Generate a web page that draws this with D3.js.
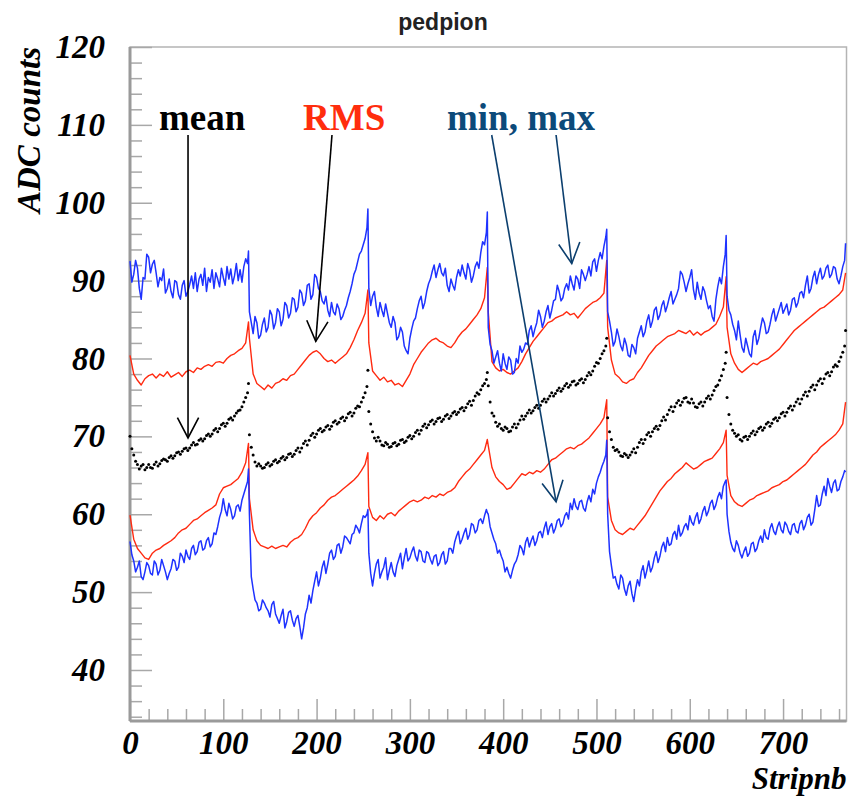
<!DOCTYPE html>
<meta charset="utf-8">
<script src="https://d3js.org/d3.v7.min.js"></script>
<style>
  body { margin: 0; background: #fff; }
</style>
<div id="my_dataviz"></div>
<script>

// 6 chips of 128 strips. Noisy series (min, max, mean) are read every 2 strips,
// the smoother RMS bands every 4 strips; the last strip of each chip is always kept.
var nChips = 6;
var offsets2 = [0,2,4,6,8,10,12,14,16,18,20,22,24,26,28,30,32,34,36,38,40,42,44,46,48,50,52,54,56,58,60,62,
  64,66,68,70,72,74,76,78,80,82,84,86,88,90,92,94,96,98,100,102,104,106,108,110,112,114,116,118,120,122,124,126,127];
var offsets4 = [0,4,8,12,16,20,24,28,32,36,40,44,48,52,56,60,64,68,72,76,80,84,88,92,96,100,104,108,112,116,120,124,127];
var strips2 = [], strips4 = [];
for (var c = 0; c < nChips; c++) {
  offsets2.forEach(function(o) { strips2.push(c * 128 + o); });
  offsets4.forEach(function(o) { strips4.push(c * 128 + o); });
}

// maximum ADC value per strip (blue, upper) -- strips2
var maxVals = [
  92.5,89.8,90.8,92.6,91.6,89.0,87.6,90.4,90.2,93.4,93.0,91.0,92.1,92.6,91.0,89.2,90.4,90.0,91.5,88.4,89.0,90.2,88.6,87.8,90.0,89.8,88.2,87.6,89.4,90.0,88.0,88.6,
  89.5,90.6,89.0,91.0,88.6,90.2,90.8,89.4,91.6,88.6,90.4,89.8,91.4,89.0,91.0,90.2,89.2,91.6,90.4,89.4,91.8,90.2,91.5,89.6,90.6,92.2,90.0,91.4,89.8,91.8,92.8,92.2,93.8,
  86.0,84.6,83.2,85.4,84.6,82.6,83.0,84.4,85.2,83.4,84.0,86.2,85.6,83.8,84.6,86.4,86.0,84.2,85.0,87.2,86.8,85.2,85.8,87.8,87.6,86.0,86.6,88.8,88.4,86.8,87.4,89.4,
  89.6,87.6,88.2,90.8,90.4,89.0,88.6,87.4,87.0,88.0,86.2,85.4,87.2,86.0,85.6,87.0,86.4,85.0,85.4,86.2,86.8,87.8,88.6,89.6,90.8,91.4,92.4,93.4,93.8,94.6,95.4,96.8,99.2,
  89.0,86.8,88.0,88.6,86.6,85.4,87.2,86.2,85.4,87.0,85.8,84.6,84.0,85.4,84.6,82.4,82.8,84.0,83.4,81.6,81.0,80.6,82.6,83.8,84.8,85.2,86.4,87.4,88.0,86.4,87.2,88.6,
  89.6,90.2,91.2,92.0,90.4,91.4,92.2,91.0,90.6,91.6,89.4,88.6,90.2,89.4,88.8,90.4,91.4,90.6,92.0,91.0,90.2,92.2,91.4,89.8,90.6,91.8,92.4,91.6,93.6,95.0,94.6,96.2,98.8,
  84.0,81.8,81.0,79.4,80.2,81.0,79.4,78.4,80.6,79.4,78.6,80.2,79.8,78.0,78.2,80.0,79.4,81.6,80.8,81.2,82.0,81.8,83.6,84.2,82.8,83.8,84.6,86.2,85.4,84.0,84.8,86.0,
  86.8,85.2,86.2,87.4,87.6,89.4,88.6,87.4,87.8,89.0,89.6,88.8,90.6,89.6,88.8,90.6,90.2,89.0,91.4,90.8,90.0,90.8,91.8,90.6,92.4,92.8,91.2,92.6,93.6,92.8,94.4,95.6,96.6,
  86.0,84.8,83.4,81.6,82.2,83.8,82.8,81.6,81.0,82.6,81.8,80.4,80.2,81.8,81.4,80.6,82.6,83.4,84.2,82.8,83.4,84.8,85.6,84.0,84.8,86.2,86.6,85.0,85.6,86.8,87.4,86.0,
  86.8,87.8,88.6,87.0,87.6,88.2,89.0,91.2,90.8,89.8,88.6,89.6,90.4,91.4,88.8,87.6,89.8,88.4,87.6,89.2,88.6,87.4,86.4,86.8,85.4,84.8,87.6,89.2,90.4,89.6,91.8,93.4,95.8,
  88.0,86.2,85.6,84.4,83.6,82.4,84.8,83.0,81.4,80.8,82.6,81.6,80.6,80.2,82.8,83.6,81.8,82.6,84.0,85.2,84.6,83.2,83.4,84.4,85.6,86.4,84.8,85.6,86.4,87.2,85.8,86.4,
  87.0,85.6,86.2,87.6,87.8,86.6,87.2,88.4,88.6,87.8,89.4,90.6,88.4,89.0,90.4,91.2,89.6,90.8,91.6,90.2,90.6,91.6,92.0,90.4,90.8,91.8,91.6,90.2,89.6,90.6,91.8,92.6,94.8
];

// mean + RMS (red, upper) -- strips4
var rmsHigh = [
  80.4,78.0,77.2,76.6,77.4,77.8,78.0,77.5,78.0,77.7,78.3,77.6,77.9,78.2,77.7,78.3,78.5,78.2,78.8,78.6,79.0,79.2,79.0,79.5,79.6,79.4,80.0,80.4,80.6,81.0,81.3,82.0,84.7,
  82.6,78.0,76.8,76.4,76.0,76.6,76.2,76.8,77.0,77.4,77.2,77.8,78.0,78.6,79.2,79.8,80.4,80.8,81.0,80.6,80.0,79.6,79.8,79.4,79.8,80.2,80.6,81.4,82.4,83.6,84.6,85.8,88.8,
  82.0,78.4,77.8,77.2,77.6,77.0,77.2,76.6,76.8,76.4,77.2,78.0,79.2,80.0,80.8,81.4,82.0,82.4,82.6,82.2,82.0,81.6,81.4,82.0,82.8,83.4,83.8,84.4,85.0,85.6,86.4,87.8,91.7,
  86.0,79.6,78.8,78.4,78.6,78.2,78.0,78.4,78.8,79.6,80.6,81.4,82.2,82.8,83.4,84.0,84.6,84.8,85.2,85.4,85.6,86.0,85.6,85.8,85.2,85.8,86.4,86.8,87.2,87.4,87.8,88.4,92.6,
  84.0,79.8,78.0,77.6,77.0,76.8,77.2,77.4,78.2,78.8,79.6,80.4,81.0,81.6,82.0,82.4,82.8,83.0,83.2,83.6,83.4,83.2,83.6,83.0,83.4,83.0,83.4,83.6,84.0,84.4,85.4,86.6,90.5,
  84.0,80.6,79.4,78.6,78.2,78.6,79.0,79.4,79.2,79.6,79.8,80.0,80.4,80.8,81.2,81.8,82.4,83.0,83.6,84.0,84.4,84.8,85.2,85.6,86.0,86.4,86.6,87.0,87.4,87.8,88.2,88.8,91.0
];

// mean ADC value per strip (black dots) -- strips2
var meanVals = [
  70.0,68.4,67.6,66.8,66.4,65.8,66.2,66.4,65.7,66.0,66.4,66.0,65.9,66.4,66.7,66.2,66.5,66.9,67.1,67.0,66.8,67.3,67.5,67.2,67.5,67.9,68.0,67.7,68.1,68.4,68.5,68.2,
  68.5,68.9,69.2,68.9,69.0,69.5,69.7,69.4,69.7,70.1,70.3,70.0,70.3,70.8,71.0,70.6,71.0,71.5,71.7,71.3,71.7,72.2,72.4,72.1,72.6,73.0,73.3,73.4,73.8,74.4,75.0,75.6,76.8,
  70.2,68.6,67.6,66.7,66.2,66.5,66.2,65.9,66.0,66.4,66.6,66.2,66.4,66.8,67.0,66.6,66.8,67.2,67.4,67.0,67.3,67.7,67.8,67.4,67.7,68.2,68.5,68.0,68.5,69.1,69.4,68.9,
  69.5,70.1,70.4,69.9,70.3,70.8,71.0,70.6,70.8,71.2,71.4,70.9,71.3,71.8,72.0,71.6,71.8,72.3,72.5,72.0,72.4,72.9,73.1,72.6,73.0,73.6,73.9,73.8,74.4,75.0,75.6,76.4,78.5,
  73.2,71.6,70.6,69.8,69.4,69.9,69.4,68.9,68.8,69.2,69.0,68.6,68.7,69.1,69.2,68.8,69.0,69.5,69.6,69.2,69.4,69.9,70.1,69.7,70.0,70.5,70.8,70.3,70.8,71.3,71.6,71.1,
  71.5,71.9,72.1,71.6,71.9,72.3,72.4,71.9,72.2,72.6,72.8,72.3,72.6,73.0,73.2,72.8,73.1,73.5,73.7,73.3,73.7,74.2,74.5,74.0,74.6,75.2,75.6,75.4,76.0,76.5,76.8,77.3,78.2,
  76.5,74.4,73.0,72.6,71.8,71.3,71.6,71.0,70.8,71.2,71.0,70.6,70.7,71.2,71.6,71.1,71.6,72.1,72.6,72.2,72.6,73.0,73.4,73.0,73.3,73.7,74.0,73.6,74.0,74.5,74.8,74.4,
  74.8,75.2,75.6,75.2,75.5,75.9,76.2,75.8,76.1,76.5,76.8,76.3,76.6,77.0,77.1,76.6,76.8,77.2,77.4,76.9,77.3,77.8,78.2,77.9,78.4,79.0,79.5,79.4,80.0,80.6,81.0,81.6,82.6,
  72.4,70.6,69.6,68.6,68.2,68.3,68.0,67.5,67.4,67.8,67.6,67.3,67.6,68.0,68.4,67.9,68.6,69.2,69.6,69.1,69.6,70.2,70.5,70.0,70.6,71.0,71.3,70.9,71.4,72.0,72.5,72.1,
  72.8,73.4,73.8,73.2,73.8,74.3,74.6,74.0,74.4,74.9,75.0,74.4,74.3,74.8,74.3,73.8,73.7,74.2,74.4,73.9,74.4,74.9,75.2,74.8,75.3,75.9,76.4,76.6,77.2,77.8,78.6,79.4,80.8,
  75.0,72.8,71.6,70.8,70.4,70.0,70.2,69.6,69.4,69.9,70.0,69.6,70.0,70.4,70.7,70.2,70.6,71.0,71.2,70.8,71.1,71.6,71.8,71.3,71.7,72.2,72.4,72.0,72.4,72.9,73.1,72.6,
  73.1,73.6,73.9,73.4,73.9,74.4,74.8,74.2,74.8,75.3,75.7,75.2,75.8,76.3,76.6,76.0,76.6,77.1,77.4,76.8,77.4,78.0,78.2,77.8,78.3,78.9,79.2,79.0,79.6,80.2,80.8,81.6,83.6
];

// mean - RMS (red, lower) -- strips4
var rmsLow = [
  59.9,56.8,55.6,55.0,54.4,54.2,55.0,55.4,55.6,56.0,56.3,56.6,57.0,57.6,58.0,58.2,58.7,59.2,59.4,59.8,60.2,60.5,60.8,61.2,62.6,63.4,63.6,63.8,64.2,64.6,65.4,66.6,69.1,
  62.0,58.0,56.6,56.0,55.8,55.6,55.9,55.6,55.8,56.0,55.8,56.4,56.8,57.0,57.4,58.2,59.2,59.8,60.2,60.8,61.2,61.8,62.2,62.4,62.8,63.2,63.6,64.0,64.4,64.9,65.6,66.4,67.9,
  61.0,59.6,59.2,59.8,59.4,60.0,60.2,59.8,60.4,60.8,61.2,61.6,61.8,61.6,61.8,62.2,62.0,62.4,62.2,62.6,62.4,62.8,63.0,63.4,64.2,64.8,65.4,65.8,66.4,67.0,67.6,68.2,69.6,
  68.8,66.0,64.8,64.2,63.8,63.2,63.4,64.0,64.6,65.2,65.0,65.4,65.2,65.6,65.4,65.8,66.4,67.0,67.2,67.6,68.0,68.4,68.6,68.4,68.8,69.0,69.4,69.8,70.4,71.0,71.6,72.4,74.7,
  62.2,59.2,58.0,57.6,57.4,57.8,58.2,58.0,58.6,59.2,59.8,60.6,61.4,62.2,63.0,63.6,64.2,64.6,65.2,65.6,66.0,66.6,66.2,65.8,66.0,66.4,66.8,67.0,67.2,67.8,68.4,69.2,70.8,
  65.0,62.4,61.6,61.2,61.0,61.4,61.8,62.0,62.4,62.6,62.8,63.0,63.4,63.6,63.8,64.2,64.4,64.8,65.2,65.6,66.0,66.4,67.0,67.6,68.0,68.6,69.0,69.4,69.8,70.2,70.8,71.6,74.4
];

// minimum ADC value per strip (blue, lower) -- strips2
var minVals = [
  56.5,54.8,54.0,52.6,53.2,54.0,52.0,51.6,52.6,53.8,53.4,52.4,52.2,54.0,53.6,52.2,52.8,54.2,53.4,52.6,51.6,52.4,53.0,54.2,54.0,52.8,53.2,55.0,54.6,53.8,55.4,54.6,
  54.2,55.6,56.0,54.8,55.2,56.4,56.6,55.4,55.6,56.6,57.0,55.8,56.2,57.6,57.4,58.4,59.6,60.4,62.0,60.6,59.8,61.4,60.6,59.4,59.8,61.0,61.2,60.4,61.8,62.6,63.4,64.2,65.8,
  60.0,52.0,50.4,49.0,48.6,47.6,47.8,49.0,48.6,48.0,47.6,46.8,48.4,48.8,47.2,46.6,46.0,47.0,47.8,45.4,46.2,47.4,47.6,46.4,45.6,46.6,47.0,45.6,44.0,45.4,47.2,48.0,
  49.6,48.6,50.2,51.4,52.6,50.8,51.8,53.2,54.0,52.4,53.6,55.0,55.4,54.2,54.6,56.0,56.2,55.0,55.8,57.2,57.0,56.6,56.2,57.4,57.6,58.6,58.2,57.6,58.8,59.8,59.6,60.0,60.6,
  55.0,52.4,50.8,52.4,53.6,54.2,51.8,52.6,53.2,54.4,51.6,52.8,53.8,52.6,52.0,53.4,54.2,55.0,53.0,54.4,55.6,54.0,54.4,55.2,55.8,54.6,54.0,55.4,55.2,54.0,53.8,55.2,
  55.0,54.2,53.6,54.6,54.8,53.4,53.8,54.8,55.2,53.6,54.0,55.6,55.6,55.0,56.4,57.2,57.8,56.2,56.8,57.6,58.2,56.8,57.4,58.8,58.6,57.6,58.0,59.2,59.4,58.8,59.8,60.6,60.2,
  60.0,58.4,57.6,56.8,56.2,55.0,55.4,54.6,54.0,52.6,53.2,52.4,51.8,52.8,53.6,54.0,54.8,56.0,55.6,54.8,56.4,57.0,55.8,56.6,57.2,56.0,56.6,57.6,57.8,57.0,58.2,59.0,
  57.4,58.4,58.8,57.6,58.2,59.2,59.4,58.4,58.8,59.8,60.2,59.4,61.4,60.6,62.0,61.0,60.6,61.6,61.8,60.8,60.4,61.6,62.4,61.6,63.2,62.6,64.0,64.8,65.4,66.2,66.8,67.6,69.5,
  60.0,55.2,53.4,51.8,52.0,51.0,50.4,52.2,51.8,50.4,49.6,50.8,51.4,49.8,48.8,50.4,51.6,50.8,52.6,53.4,51.8,52.8,54.0,52.6,53.2,54.4,55.2,53.8,54.6,55.8,56.4,55.2,
  57.0,56.0,56.2,57.4,57.8,56.8,58.6,57.2,57.6,58.4,58.8,58.0,59.8,59.0,58.6,59.6,60.2,58.8,59.4,60.4,61.0,59.8,60.4,61.4,61.8,60.6,61.2,62.2,62.8,62.0,63.6,64.2,64.4,
  60.0,57.8,56.4,55.6,55.2,56.6,56.0,55.0,54.4,55.2,55.8,54.6,55.0,56.2,56.4,55.2,55.6,56.6,57.2,56.4,58.0,57.0,56.8,58.2,58.8,57.8,57.4,58.4,59.0,58.0,57.6,59.0,
  58.6,57.8,57.4,58.6,58.8,57.8,57.6,58.8,59.2,58.0,58.6,59.6,60.0,58.6,59.0,60.6,62.4,61.0,61.2,62.6,63.6,62.4,64.6,63.6,62.8,64.0,64.4,63.0,63.2,64.2,64.8,65.6,65.4
];

// axis ticks
var yMajor = [40, 50, 60, 70, 80, 90, 100, 110, 120];
var yMinor = [34,36,38,42,44,46,48,52,54,56,58,62,64,66,68,72,74,76,78,82,84,86,88,92,94,96,98,102,104,106,108,112,114,116,118];
var xMajor = [0, 100, 200, 300, 400, 500, 600, 700];
var xMinor = [20,40,60,80,120,140,160,180,220,240,260,280,320,340,360,380,420,440,460,480,520,540,560,580,620,640,660,680,720,740,760];

// annotation labels and arrows, in data coordinates
var noteText = ["mean", "RMS", "min, max"];
var noteColor = ["#000000", "#ff2d0d", "#0c4a7a"];
var noteX = [31, 185.5, 339.8];
var noteY = 109.3;
var arrows = [
  {color: "#000000", from: [62.2, 108.7], to: [62.2, 69.8]},
  {color: "#000000", from: [216.5, 108.7], to: [199.1, 82.2]},
  {color: "#0c3f6e", from: [387.7, 108.7], to: [456.7, 61.6]},
  {color: "#0c3f6e", from: [456.7, 108.7], to: [473.5, 92.2]}
];

var W = 852, H = 796;
var margin = {top: 47, right: 5.5, bottom: 75, left: 130};
var yBottom = 33.45;

var svg = d3.select("#my_dataviz")
  .append("svg")
    .attr("width", W)
    .attr("height", H)
    .style("background", "#fff");

var x = d3.scaleLinear().domain([0, 768]).range([margin.left, W - margin.right]);
var y = d3.scaleLinear().domain([yBottom, 120]).range([H - margin.bottom, margin.top]);

var serif = "'Liberation Serif', 'Times New Roman', serif";

// title
svg.append("text")
  .attr("x", 443).attr("y", 30)
  .attr("text-anchor", "middle")
  .style("font-family", "'Liberation Sans', Arial, sans-serif")
  .style("font-weight", "bold")
  .style("font-size", "23px")
  .style("fill", "#222")
  .text("pedpion");

// frame
svg.append("rect")
  .attr("x", x(0)).attr("y", y(120))
  .attr("width", x(768) - x(0)).attr("height", y(yBottom) - y(120))
  .style("fill", "none").style("stroke", "#b4b4b4").style("stroke-width", 1.5);

// y axis: major ticks with labels, minor ticks without
svg.append("g")
  .attr("transform", "translate(" + x(0) + ",0)")
  .call(d3.axisLeft(y).tickValues(yMajor).tickSize(-22).tickPadding(25));
svg.append("g")
  .attr("transform", "translate(" + x(0) + ",0)")
  .call(d3.axisLeft(y).tickValues(yMinor).tickSize(-12).tickFormat(""));

// x axis
svg.append("g")
  .attr("transform", "translate(0," + y(yBottom) + ")")
  .call(d3.axisBottom(x).tickValues(xMajor).tickSize(-22).tickPadding(9.8));
svg.append("g")
  .attr("transform", "translate(0," + y(yBottom) + ")")
  .call(d3.axisBottom(x).tickValues(xMinor).tickSize(-12).tickFormat(""));

svg.selectAll(".domain").remove();
svg.selectAll(".tick line").style("stroke", "#a8a8a8").style("stroke-width", 1.5);
svg.selectAll(".tick text")
  .style("font-family", serif)
  .style("font-weight", "bold")
  .style("font-style", "italic")
  .style("font-size", "33px")
  .style("fill", "#000");

// heavier left and bottom axis lines
svg.append("line")
  .attr("x1", x(0)).attr("x2", x(0)).attr("y1", y(120)).attr("y2", y(yBottom))
  .style("stroke", "#9a9a9a").style("stroke-width", 3);
svg.append("line")
  .attr("x1", x(0)).attr("x2", x(768)).attr("y1", y(yBottom)).attr("y2", y(yBottom))
  .style("stroke", "#9a9a9a").style("stroke-width", 3);

// axis titles
svg.append("text")
  .attr("transform", "translate(40," + y(120) + ") rotate(-90)")
  .attr("text-anchor", "end")
  .style("font-family", serif).style("font-weight", "bold").style("font-style", "italic")
  .style("font-size", "33px")
  .text("ADC counts");
svg.append("text")
  .attr("x", x(768)).attr("y", 788.5)
  .attr("text-anchor", "end")
  .style("font-family", serif).style("font-weight", "bold").style("font-style", "italic")
  .style("font-size", "31px")
  .text("Stripnb");

// series
function series(strips, vals) {
  return strips.map(function(s, i) { return {s: s, v: vals[i]}; });
}
var line = d3.line().x(function(d) { return x(d.s); }).y(function(d) { return y(d.v); });

var plot = svg.append("g");
[rmsHigh, rmsLow].forEach(function(vals) {
  plot.append("path").datum(series(strips4, vals))
    .attr("d", line)
    .style("fill", "none").style("stroke", "#ff2a10").style("stroke-width", 1.4)
    .style("stroke-linejoin", "round");
});
[maxVals, minVals].forEach(function(vals) {
  plot.append("path").datum(series(strips2, vals))
    .attr("d", line)
    .style("fill", "none").style("stroke", "#1e32ff").style("stroke-width", 1.5)
    .style("stroke-linejoin", "round");
});
plot.selectAll("circle.mean")
  .data(series(strips2, meanVals))
  .enter().append("circle")
    .attr("class", "mean")
    .attr("cx", function(d) { return x(d.s); })
    .attr("cy", function(d) { return y(d.v); })
    .attr("r", 1.5)
    .style("fill", "#000");

// annotation labels
noteText.forEach(function(t, i) {
  svg.append("text")
    .attr("x", x(noteX[i])).attr("y", y(noteY))
    .style("font-family", serif).style("font-weight", "bold")
    .style("font-size", "37px")
    .style("fill", noteColor[i])
    .text(t);
});

// annotation arrows (open V heads)
arrows.forEach(function(a) {
  var x1 = x(a.from[0]), y1 = y(a.from[1]), x2 = x(a.to[0]), y2 = y(a.to[1]);
  var ang = Math.atan2(y2 - y1, x2 - x1), len = 23, spread = 0.48;
  var g = svg.append("g").style("stroke", a.color).style("stroke-width", 1.6).style("fill", "none");
  g.append("line").attr("x1", x1).attr("y1", y1).attr("x2", x2).attr("y2", y2);
  g.append("path").attr("d",
    "M" + (x2 - len * Math.cos(ang - spread)) + "," + (y2 - len * Math.sin(ang - spread)) +
    "L" + x2 + "," + y2 +
    "L" + (x2 - len * Math.cos(ang + spread)) + "," + (y2 - len * Math.sin(ang + spread)));
});

</script>
